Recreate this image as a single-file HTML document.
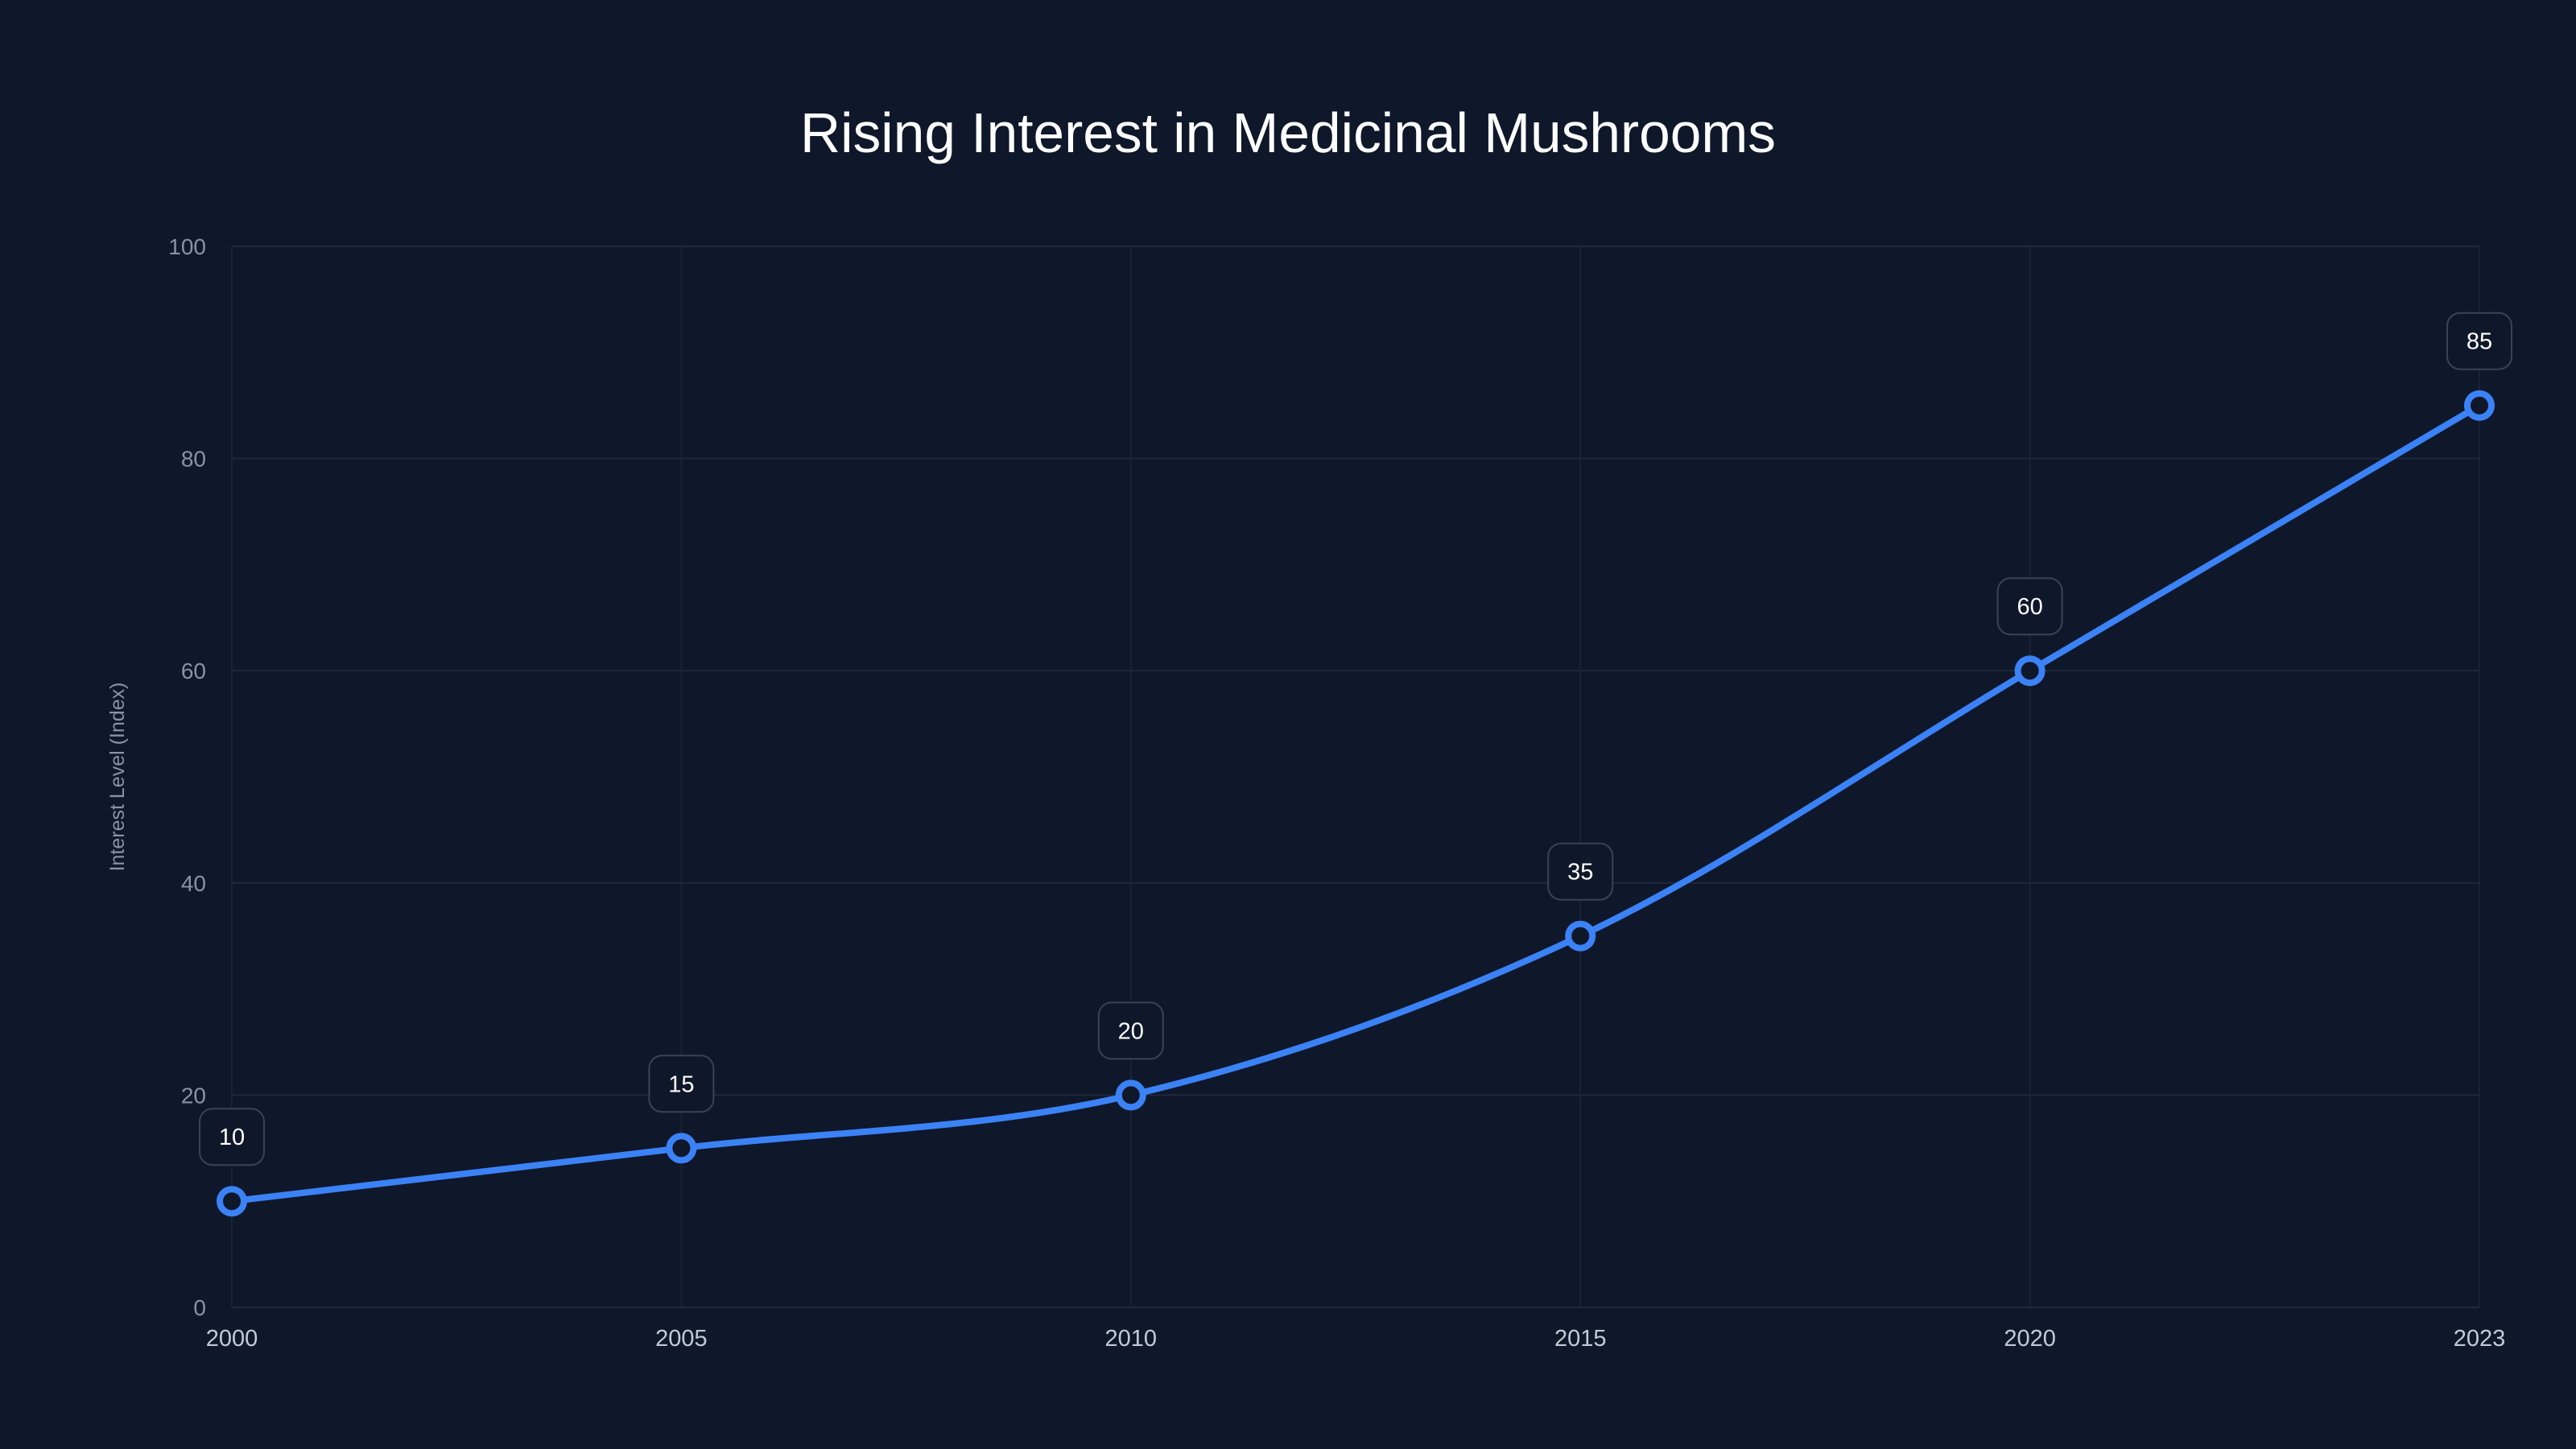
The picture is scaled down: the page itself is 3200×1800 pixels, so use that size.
<!DOCTYPE html>
<html><head><meta charset="utf-8"><style>
html,body{margin:0;padding:0;background:#0f172a;}
svg{display:block;font-family:"Liberation Sans",sans-serif;}
</style></head><body>
<svg id="chart" width="3200" height="1800" viewBox="0 0 3200 1800" xmlns="http://www.w3.org/2000/svg">
<rect width="3200" height="1800" fill="#0f172a"/>
<text x="1600" y="189" text-anchor="middle" font-size="70" textLength="1212" lengthAdjust="spacingAndGlyphs" fill="#ffffff">Rising Interest in Medicinal Mushrooms</text>
<text transform="translate(154,965) rotate(-90)" text-anchor="middle" font-size="25" fill="#8a93a6">Interest Level (Index)</text>
<g id="grid"></g><g id="axes"></g><g id="series"></g><g id="labels"></g>
</svg>
<script>
const categories=["2000","2005","2010","2015","2020","2023"];
const values=[10,15,20,35,60,85];
const yTicks=[0,20,40,60,80,100];
const L=288,R=3080,T=306,B=1624,yMax=100;
const NS="http://www.w3.org/2000/svg";
function xs(i){return L+(R-L)*i/(categories.length-1);}
function ys(v){return B-(B-T)*v/yMax;}
function mk(tag,attrs,parent){const e=document.createElementNS(NS,tag);for(const k in attrs)e.setAttribute(k,attrs[k]);document.getElementById(parent).appendChild(e);return e;}
yTicks.forEach(v=>{
  const g=mk('line',{x1:L,x2:R,y1:ys(v),y2:ys(v),stroke:'#1f2939','stroke-width':2},'grid');
  
  
  const t=mk('text',{x:256,y:ys(v)+10,'text-anchor':'end','font-size':28,fill:'#8a93a6'},'axes');
  t.textContent=v;
  
  
});
categories.forEach((c,i)=>{
  const g=mk('line',{x1:xs(i),x2:xs(i),y1:T,y2:B,stroke:'#1a2333','stroke-width':2},'grid');
  
  
  const t=mk('text',{x:xs(i),y:1672,'text-anchor':'middle','font-size':29,fill:'#c3cad6'},'axes');
  t.textContent=c;
  
  
});
const P=values.map((v,i)=>[xs(i),ys(v)]);
const n=P.length,d=[],m=[];
for(let i=0;i<n-1;i++)d.push((P[i+1][1]-P[i][1])/(P[i+1][0]-P[i][0]));
m[0]=d[0];m[n-1]=d[n-2];
for(let i=1;i<n-1;i++)m[i]=(d[i-1]*d[i]<=0)?0:(d[i-1]+d[i])/2;
for(let i=0;i<n-1;i++){if(d[i]===0){m[i]=m[i+1]=0;continue;}const a=m[i]/d[i],b=m[i+1]/d[i],s=a*a+b*b;if(s>9){const t=3/Math.sqrt(s);m[i]=t*a*d[i];m[i+1]=t*b*d[i];}}
let path='M'+P[0][0]+','+P[0][1];
for(let i=0;i<n-1;i++){const h=(P[i+1][0]-P[i][0])/3;path+=' C'+(P[i][0]+h)+','+(P[i][1]+m[i]*h)+' '+(P[i+1][0]-h)+','+(P[i+1][1]-m[i+1]*h)+' '+P[i+1][0]+','+P[i+1][1];}
const ln=mk('path',{d:path,fill:'none',stroke:'#3b82f6','stroke-width':8,'stroke-linejoin':'round'},'series');


values.forEach((v,i)=>{
  const c=mk('circle',{cx:xs(i),cy:ys(v),r:15,fill:'#0f172a',stroke:'#3b82f6','stroke-width':8},'series');
  
  
  const w=String(v).length*17+46;
  const r=mk('rect',{x:xs(i)-w/2,y:ys(v)-115,width:w,height:70,rx:16,fill:'#0f172a',stroke:'#3a4354','stroke-width':2},'labels');
  
  
  const t=mk('text',{x:xs(i),y:ys(v)-70,'text-anchor':'middle','font-size':29,fill:'#ffffff'},'labels');
  t.textContent=v;
  
  
});
</script>
</body></html>
